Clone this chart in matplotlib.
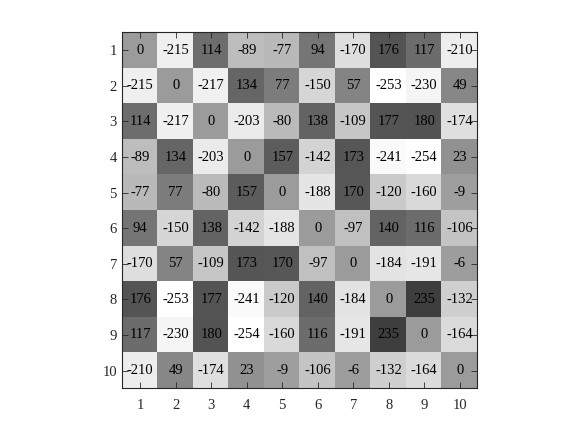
import matplotlib
matplotlib.use('Agg')
import matplotlib.pyplot as plt
from matplotlib.colors import LinearSegmentedColormap
import numpy as np

plt.rcParams['font.family'] = ['Liberation Serif', 'DejaVu Serif']

labels = [1, 2, 3, 4, 5, 6, 7, 8, 9, 10]
row1 = [0, -215, 114, -89, -77, 94, -170, 176, 117, -210]
row2 = [-215, 0, -217, 134, 77, -150, 57, -253, -230, 49]
row3 = [114, -217, 0, -203, -80, 138, -109, 177, 180, -174]
row4 = [-89, 134, -203, 0, 157, -142, 173, -241, -254, 23]
row5 = [-77, 77, -80, 157, 0, -188, 170, -120, -160, -9]
row6 = [94, -150, 138, -142, -188, 0, -97, 140, 116, -106]
row7 = [-170, 57, -109, 173, 170, -97, 0, -184, -191, -6]
row8 = [176, -253, 177, -241, -120, 140, -184, 0, 235, -132]
row9 = [117, -230, 180, -254, -160, 116, -191, 235, 0, -164]
row10 = [-210, 49, -174, 23, -9, -106, -6, -132, -164, 0]

M = np.array([row1, row2, row3, row4, row5, row6, row7, row8, row9, row10])

# white for the lowest value, dark gray for the highest
cmap = LinearSegmentedColormap.from_list('wg', ['#ffffff', '#3e3e3e'])

fig = plt.figure(figsize=(5.81, 4.36), dpi=100)
ax = fig.add_axes([0.2108, 0.1094, 0.611, 0.8161])
ax.imshow(M, cmap=cmap, vmin=M.min(), vmax=M.max(), aspect='auto',
          extent=[0.5, 10.5, 10.5, 0.5], interpolation='nearest')

for i in range(len(labels)):
    for j in range(len(labels)):
        ax.text(labels[j], labels[i], str(M[i, j]), ha='center', va='center',
                fontsize=10.5, color='black')

ax.set_xlim(0.5, 10.5)
ax.set_ylim(10.5, 0.5)
ax.set_xticks(labels)
ax.set_yticks(labels)
ax.tick_params(direction='in', length=4, width=0.6, colors='#262626',
               labelsize=10.5, top=True, right=True)
ax.tick_params(axis='x', pad=8)
ax.tick_params(axis='y', pad=4)
for s in ax.spines.values():
    s.set_color('#262626')
    s.set_linewidth(0.8)

fig.savefig('out.png', dpi=100)
